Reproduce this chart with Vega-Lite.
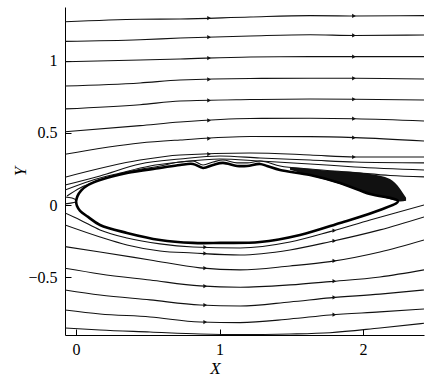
{
 "$schema": "https://vega.github.io/schema/vega-lite/v6.json",
 "width": 359,
 "height": 328,
 "autosize": {"type": "none"},
 "padding": {"left": 65, "top": 7, "right": 1, "bottom": 46},
 "background": "white",
 "config": {"view": {"stroke": null}},
 "datasets": {
  "lines": [
   {"id":"U1","x":-0.077,"y":1.270},{"id":"U1","x":0.446,"y":1.287},{"id":"U1","x":0.725,"y":1.289},{"id":"U1","x":1.213,"y":1.303},{"id":"U1","x":1.631,"y":1.312},{"id":"U1","x":1.944,"y":1.310},{"id":"U1","x":2.425,"y":1.312},
   {"id":"U2","x":-0.077,"y":1.134},{"id":"U2","x":0.446,"y":1.145},{"id":"U2","x":0.725,"y":1.157},{"id":"U2","x":1.213,"y":1.171},{"id":"U2","x":1.631,"y":1.180},{"id":"U2","x":1.944,"y":1.175},{"id":"U2","x":2.425,"y":1.178},
   {"id":"U3","x":-0.077,"y":0.993},{"id":"U3","x":0.446,"y":1.005},{"id":"U3","x":0.725,"y":1.012},{"id":"U3","x":1.213,"y":1.026},{"id":"U3","x":1.631,"y":1.028},{"id":"U3","x":1.944,"y":1.028},{"id":"U3","x":2.425,"y":1.028},
   {"id":"U4","x":-0.077,"y":0.825},{"id":"U4","x":0.446,"y":0.846},{"id":"U4","x":0.725,"y":0.866},{"id":"U4","x":1.213,"y":0.877},{"id":"U4","x":1.631,"y":0.878},{"id":"U4","x":1.944,"y":0.878},{"id":"U4","x":2.425,"y":0.873},
   {"id":"U5","x":-0.077,"y":0.666},{"id":"U5","x":0.446,"y":0.695},{"id":"U5","x":0.725,"y":0.721},{"id":"U5","x":1.213,"y":0.731},{"id":"U5","x":1.631,"y":0.735},{"id":"U5","x":1.944,"y":0.733},{"id":"U5","x":2.425,"y":0.728},
   {"id":"U6","x":-0.077,"y":0.508},{"id":"U6","x":0.446,"y":0.550},{"id":"U6","x":0.725,"y":0.575},{"id":"U6","x":1.213,"y":0.600},{"id":"U6","x":1.631,"y":0.601},{"id":"U6","x":1.944,"y":0.598},{"id":"U6","x":2.425,"y":0.582},
   {"id":"U7","x":-0.077,"y":0.352},{"id":"U7","x":0.446,"y":0.430},{"id":"U7","x":0.725,"y":0.451},{"id":"U7","x":1.213,"y":0.475},{"id":"U7","x":1.631,"y":0.474},{"id":"U7","x":1.944,"y":0.467},{"id":"U7","x":2.425,"y":0.444},
   {"id":"U8","x":-0.077,"y":0.193},{"id":"U8","x":0.446,"y":0.312},{"id":"U8","x":0.725,"y":0.347},{"id":"U8","x":1.213,"y":0.361},{"id":"U8","x":1.631,"y":0.347},{"id":"U8","x":1.944,"y":0.333},{"id":"U8","x":2.425,"y":0.333},
   {"id":"U9","x":-0.077,"y":0.139},{"id":"U9","x":0.167,"y":0.202},{"id":"U9","x":0.446,"y":0.285},{"id":"U9","x":0.725,"y":0.319},{"id":"U9","x":1.003,"y":0.340},{"id":"U9","x":1.282,"y":0.326},{"id":"U9","x":1.631,"y":0.312},{"id":"U9","x":1.944,"y":0.298},{"id":"U9","x":2.425,"y":0.292},
   {"id":"U10","x":-0.077,"y":0.104},{"id":"U10","x":0.098,"y":0.167},{"id":"U10","x":0.307,"y":0.222},{"id":"U10","x":0.516,"y":0.271},{"id":"U10","x":0.725,"y":0.298},{"id":"U10","x":1.003,"y":0.319},{"id":"U10","x":1.282,"y":0.305},{"id":"U10","x":1.631,"y":0.285},{"id":"U10","x":1.944,"y":0.264},{"id":"U10","x":2.425,"y":0.243},
   {"id":"U11","x":-0.063,"y":0.063},{"id":"U11","x":0.028,"y":0.118},{"id":"U11","x":0.167,"y":0.174},{"id":"U11","x":0.355,"y":0.229},{"id":"U11","x":0.585,"y":0.271},{"id":"U11","x":0.725,"y":0.298},{"id":"U11","x":0.815,"y":0.305},{"id":"U11","x":0.885,"y":0.278},{"id":"U11","x":0.955,"y":0.298},{"id":"U11","x":1.024,"y":0.312},{"id":"U11","x":1.122,"y":0.292},{"id":"U11","x":1.192,"y":0.292},{"id":"U11","x":1.282,"y":0.305},{"id":"U11","x":1.422,"y":0.271},{"id":"U11","x":1.631,"y":0.250},{"id":"U11","x":1.944,"y":0.225},{"id":"U11","x":2.188,"y":0.205},{"id":"U11","x":2.425,"y":0.195},
   {"id":"S1","x":-0.077,"y":0.056},{"id":"S1","x":-0.028,"y":0.049},{"id":"S1","x":0.003,"y":0.035},
   {"id":"S2","x":-0.077,"y":0.008},{"id":"S2","x":-0.028,"y":0.015},{"id":"S2","x":0.003,"y":0.021},
   {"id":"D1","x":-0.077,"y":-0.055},{"id":"D1","x":0.028,"y":-0.103},{"id":"D1","x":0.167,"y":-0.172},{"id":"D1","x":0.355,"y":-0.228},{"id":"D1","x":0.585,"y":-0.269},{"id":"D1","x":0.815,"y":-0.290},{"id":"D1","x":1.143,"y":-0.297},{"id":"D1","x":1.491,"y":-0.256},{"id":"D1","x":1.770,"y":-0.184},{"id":"D1","x":2.049,"y":-0.103},{"id":"D1","x":2.425,"y":0.001},
   {"id":"D2","x":-0.077,"y":-0.138},{"id":"D2","x":0.167,"y":-0.221},{"id":"D2","x":0.355,"y":-0.276},{"id":"D2","x":0.585,"y":-0.318},{"id":"D2","x":0.815,"y":-0.332},{"id":"D2","x":1.143,"y":-0.346},{"id":"D2","x":1.491,"y":-0.311},{"id":"D2","x":1.770,"y":-0.254},{"id":"D2","x":2.118,"y":-0.172},{"id":"D2","x":2.425,"y":-0.082},
   {"id":"D3","x":-0.077,"y":-0.288},{"id":"D3","x":0.167,"y":-0.325},{"id":"D3","x":0.516,"y":-0.380},{"id":"D3","x":0.864,"y":-0.435},{"id":"D3","x":1.143,"y":-0.449},{"id":"D3","x":1.491,"y":-0.422},{"id":"D3","x":1.770,"y":-0.392},{"id":"D3","x":2.118,"y":-0.325},{"id":"D3","x":2.425,"y":-0.242},
   {"id":"D4","x":-0.077,"y":-0.438},{"id":"D4","x":0.167,"y":-0.477},{"id":"D4","x":0.516,"y":-0.519},{"id":"D4","x":0.864,"y":-0.560},{"id":"D4","x":1.143,"y":-0.569},{"id":"D4","x":1.491,"y":-0.553},{"id":"D4","x":1.770,"y":-0.530},{"id":"D4","x":2.118,"y":-0.498},{"id":"D4","x":2.425,"y":-0.449},
   {"id":"D5","x":-0.077,"y":-0.588},{"id":"D5","x":0.167,"y":-0.623},{"id":"D5","x":0.516,"y":-0.657},{"id":"D5","x":0.864,"y":-0.692},{"id":"D5","x":1.143,"y":-0.699},{"id":"D5","x":1.491,"y":-0.671},{"id":"D5","x":1.770,"y":-0.643},{"id":"D5","x":2.118,"y":-0.617},{"id":"D5","x":2.425,"y":-0.588},
   {"id":"D6","x":-0.077,"y":-0.727},{"id":"D6","x":0.167,"y":-0.754},{"id":"D6","x":0.516,"y":-0.775},{"id":"D6","x":0.864,"y":-0.810},{"id":"D6","x":1.143,"y":-0.814},{"id":"D6","x":1.491,"y":-0.789},{"id":"D6","x":1.770,"y":-0.761},{"id":"D6","x":2.118,"y":-0.740},{"id":"D6","x":2.425,"y":-0.720},
   {"id":"D7","x":-0.077,"y":-0.851},{"id":"D7","x":0.167,"y":-0.865},{"id":"D7","x":0.516,"y":-0.879},{"id":"D7","x":0.864,"y":-0.893},{"id":"D7","x":1.143,"y":-0.897},{"id":"D7","x":1.491,"y":-0.893},{"id":"D7","x":1.770,"y":-0.884},{"id":"D7","x":2.118,"y":-0.851},{"id":"D7","x":2.425,"y":-0.819}
  ],
  "arrows": [
   {"x":0.927,"y":1.295},{"x":1.937,"y":1.310},
   {"x":0.927,"y":1.163},{"x":1.937,"y":1.175},
   {"x":0.927,"y":1.018},{"x":1.937,"y":1.028},
   {"x":0.927,"y":0.870},{"x":1.937,"y":0.878},
   {"x":0.927,"y":0.725},{"x":1.937,"y":0.733},
   {"x":0.927,"y":0.586},{"x":1.937,"y":0.598},
   {"x":0.927,"y":0.461},{"x":1.937,"y":0.467},
   {"x":0.927,"y":0.353},{"x":1.937,"y":0.333},
   {"x":0.900,"y":-0.292},{"x":1.800,"y":-0.177},
   {"x":0.900,"y":-0.335},{"x":1.800,"y":-0.248},
   {"x":0.900,"y":-0.437},{"x":1.800,"y":-0.386},
   {"x":0.900,"y":-0.562},{"x":1.800,"y":-0.527},
   {"x":0.900,"y":-0.693},{"x":1.800,"y":-0.640},
   {"x":0.900,"y":-0.810},{"x":1.800,"y":-0.759}
  ],
  "body": [
   {"o":1,"x":0.0,"y":0.025},{"o":2,"x":0.010,"y":0.062},{"o":3,"x":0.035,"y":0.100},{"o":4,"x":0.084,"y":0.139},{"o":5,"x":0.167,"y":0.174},{"o":6,"x":0.355,"y":0.222},{"o":7,"x":0.585,"y":0.257},{"o":8,"x":0.725,"y":0.278},{"o":9,"x":0.815,"y":0.285},{"o":10,"x":0.885,"y":0.257},{"o":11,"x":0.955,"y":0.278},{"o":12,"x":1.024,"y":0.292},{"o":13,"x":1.122,"y":0.271},{"o":14,"x":1.192,"y":0.271},{"o":15,"x":1.282,"y":0.285},{"o":16,"x":1.331,"y":0.271},{"o":17,"x":1.422,"y":0.243},{"o":18,"x":1.631,"y":0.208},{"o":19,"x":1.840,"y":0.153},{"o":20,"x":2.049,"y":0.077},{"o":21,"x":2.244,"y":0.028},{"o":22,"x":2.118,"y":-0.034},{"o":23,"x":1.840,"y":-0.124},{"o":24,"x":1.561,"y":-0.207},{"o":25,"x":1.282,"y":-0.256},{"o":26,"x":1.003,"y":-0.262},{"o":27,"x":0.815,"y":-0.262},{"o":28,"x":0.585,"y":-0.242},{"o":29,"x":0.355,"y":-0.193},{"o":30,"x":0.167,"y":-0.138},{"o":31,"x":0.084,"y":-0.082},{"o":32,"x":0.028,"y":-0.040},{"o":33,"x":0.006,"y":-0.005},{"o":34,"x":0.0,"y":0.025}
  ],
  "wake": [
   {"x":1.491,"y":0.262,"y2":0.245},{"x":1.631,"y":0.250,"y2":0.205},{"x":1.770,"y":0.238,"y2":0.166},{"x":1.909,"y":0.230,"y2":0.124},{"x":2.049,"y":0.215,"y2":0.080},{"x":2.188,"y":0.180,"y2":0.040},{"x":2.260,"y":0.110,"y2":0.025},{"x":2.300,"y":0.050,"y2":0.030}
  ]
 },
 "encoding": {
  "x": {"field": "x", "type": "quantitative",
   "scale": {"domain": [-0.077, 2.425], "nice": false, "zero": false},
   "axis": {"title": "X", "values": [0, 1, 2], "format": "~g", "grid": false, "tickSize": -6, "labelPadding": 12, "labelFlush": false,
    "domainColor": "#000", "tickColor": "#000", "labelColor": "#000", "labelFont": "Liberation Serif", "labelFontSize": 16,
    "titleFont": "Liberation Serif", "titleFontStyle": "italic", "titleFontWeight": "normal", "titleFontSize": 17, "titleColor": "#000",
    "titleX": 150, "titleY": 33, "titleBaseline": "middle"}},
  "y": {"field": "y", "type": "quantitative",
   "scale": {"domain": [-0.9, 1.372], "nice": false, "zero": false},
   "axis": {"title": "Y", "values": [-0.5, 0, 0.5, 1], "format": "~g", "grid": false, "tickSize": -6, "labelPadding": 14, "labelFlush": false,
    "domainColor": "#000", "tickColor": "#000", "labelColor": "#000", "labelFont": "Liberation Serif", "labelFontSize": 16,
    "titleFont": "Liberation Serif", "titleFontStyle": "italic", "titleFontWeight": "normal", "titleFontSize": 17, "titleColor": "#000",
    "titleX": -45, "titleY": 164, "titleBaseline": "middle"}}
 },
 "layer": [
  {"data": {"name": "wake"}, "mark": {"type": "area", "color": "#111", "interpolate": "monotone", "clip": true},
   "encoding": {"y2": {"field": "y2"}}},
  {"data": {"name": "lines"}, "mark": {"type": "line", "stroke": "#111", "strokeWidth": 1.1, "interpolate": "monotone", "clip": true},
   "encoding": {"detail": {"field": "id"}}},
  {"data": {"name": "arrows"}, "mark": {"type": "point", "shape": "triangle-right", "filled": true, "color": "#111", "size": 18, "opacity": 1, "clip": true},
   "encoding": {}},
  {"data": {"name": "body"}, "mark": {"type": "line", "stroke": "#000", "strokeWidth": 2.6, "interpolate": "catmull-rom", "clip": true},
   "encoding": {"order": {"field": "o", "type": "quantitative"}}}
 ]
}
